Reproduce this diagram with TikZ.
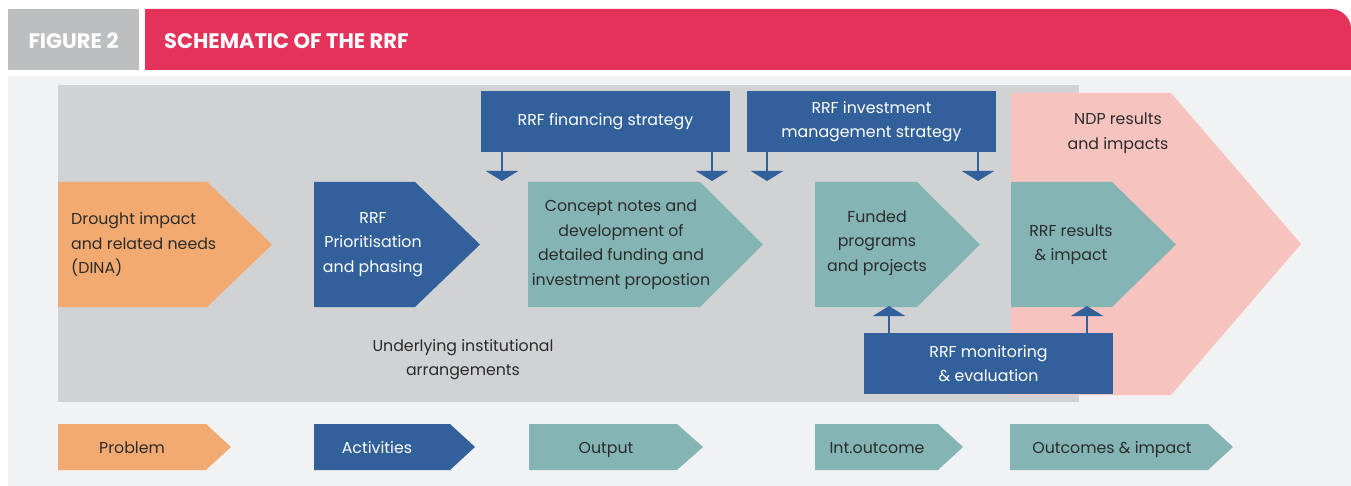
\documentclass[tikz,border=0pt]{standalone}
\usepackage{fontspec}
\setmainfont{Poppins}
\usetikzlibrary{positioning,arrows.meta}
\definecolor{headgray}{HTML}{BCBEC0}
\definecolor{headred}{HTML}{E5325A}
\definecolor{panelbg}{HTML}{F1F2F4}
\definecolor{panelgray}{HTML}{D1D2D4}
\definecolor{probfill}{HTML}{F3AA70}
\definecolor{actfill}{HTML}{32609A}
\definecolor{outfill}{HTML}{85B4B4}
\definecolor{ndpfill}{HTML}{F6C3BF}
\definecolor{inktext}{HTML}{2B2B2B}
\begin{document}
\begin{tikzpicture}[x=1pt, y=-1pt, >={Triangle[width=32pt,length=10pt]},
    every node/.style = {inner sep=0pt, font=\fontsize{15.8}{24.5}\selectfont},
    darktext/.style = {text=inktext, align=center},
    bluebox/.style = {fill=actfill, text=white, align=center, minimum width=249pt, minimum height=61pt},
    headtext/.style = {text=white, font=\fontsize{21}{24}\selectfont\bfseries},
    legendtext/.style = {anchor=base},
    flowarrow/.style = {->, draw=actfill, line width=2.5pt}
    ]
    \useasboundingbox (0,0) rectangle (1351,486);
    % header
    \fill[headgray] (8,9) rectangle (139,70);
    \fill[headred] (145,9) -- (1331,9) arc[start angle=-90, end angle=0, radius=20] -- (1351,70) -- (145,70) -- cycle;
    \node[headtext, anchor=base] (fig) at (73.5,49) {FIGURE 2};
    \node[headtext, anchor=base west] (title) at (164,49) {SCHEMATIC OF THE RRF};
    % panels
    \fill[panelbg] (8,76) rectangle (1351,486);
    \fill[panelgray] (58,85) rectangle (1079,402);
    \fill[ndpfill] (1011,93) -- (1171,93) -- (1301,244) -- (1171,395) -- (1011,395) -- cycle;
    % chevrons
    \fill[probfill] (58,182) -- (207,182) -- (272,244.5) -- (207,307) -- (58,307) -- cycle;
    \fill[actfill] (314,182) -- (415,182) -- (480,244.5) -- (415,307) -- (314,307) -- cycle;
    \fill[outfill] (528,182) -- (700,182) -- (763,244.5) -- (700,307) -- (528,307) -- cycle;
    \fill[outfill] (815,182) -- (917,182) -- (980,244.5) -- (917,307) -- (815,307) -- cycle;
    \fill[outfill] (1011,182) -- (1112,182) -- (1176,244.5) -- (1112,307) -- (1011,307) -- cycle;

    \node[darktext, align=left, anchor=west] (dina) at (71,244.5) {Drought impact\\and related needs\\(DINA)};
    \node[text=white, align=center] (prio) at (373,244.5) {RRF\\Prioritisation\\and phasing};
    \node[darktext] (concept) at (621,244.5) {Concept notes and\\development of\\detailed funding and\\investment propostion};
    \node[darktext] (funded) at (877,243) {Funded\\programs\\and projects};
    \node[darktext] (results) at (1071,244.5) {RRF results\\\& impact};
    \node[darktext] (ndp) at (1118,133) {NDP results\\and impacts};
    \node[darktext] (under) at (463,359.5) {Underlying institutional\\arrangements};

    % strategy and monitoring boxes
    \node[bluebox] (fin) at (605.5,121.5) {RRF financing strategy};
    \node[bluebox] (inv) at (871.5,121.5) {RRF investment\\management strategy};
    \node[bluebox] (mon) at (988.5,363.5) {RRF monitoring\\\& evaluation};

    \coordinate (finA) at (502,181);
    \coordinate (finB) at (712,181);
    \coordinate (invA) at (767,181);
    \coordinate (invB) at (978,181);
    \coordinate (monA) at (889,306);
    \coordinate (monB) at (1087,306);
    \draw[flowarrow] (fin.south -| finA) -- (finA);
    \draw[flowarrow] (fin.south -| finB) -- (finB);
    \draw[flowarrow] (inv.south -| invA) -- (invA);
    \draw[flowarrow] (inv.south -| invB) -- (invB);
    \draw[flowarrow] (mon.north -| monA) -- (monA);
    \draw[flowarrow] (mon.north -| monB) -- (monB);

    % legend
    \fill[probfill] (58,424) -- (206,424) -- (231,447) -- (206,470) -- (58,470) -- cycle;
    \fill[actfill] (314,424) -- (450,424) -- (475,447) -- (450,470) -- (314,470) -- cycle;
    \fill[outfill] (529,424) -- (677,424) -- (703,447) -- (677,470) -- (529,470) -- cycle;
    \fill[outfill] (815,424) -- (938,424) -- (963,447) -- (938,470) -- (815,470) -- cycle;
    \fill[outfill] (1010,424) -- (1208,424) -- (1233,447) -- (1208,470) -- (1010,470) -- cycle;
    \node[darktext, legendtext] (prob) at (132,453) {Problem};
    \node[text=white, legendtext] (act) at (377,453) {Activities};
    \node[darktext, legendtext] (out) at (606,453) {Output};
    \node[darktext, legendtext] (int) at (877,453) {Int.outcome};
    \node[darktext, legendtext] (outc) at (1112,453) {Outcomes \& impact};
\end{tikzpicture}
\end{document}
